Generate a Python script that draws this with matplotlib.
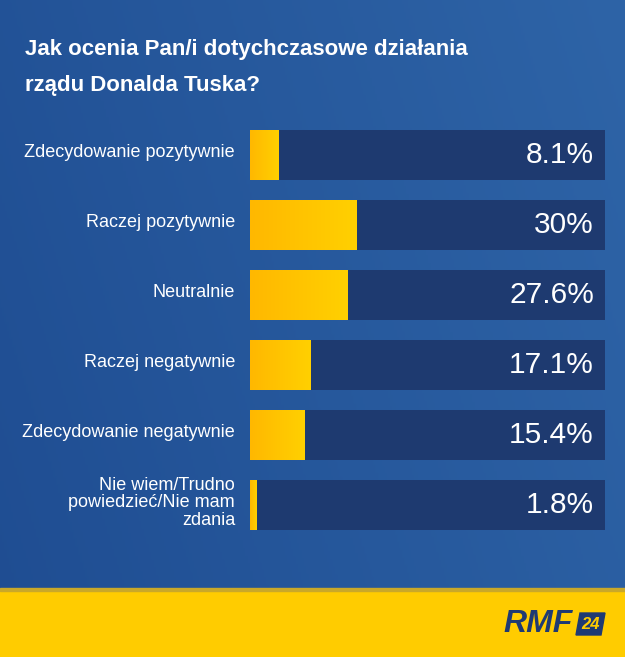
import numpy as np
import matplotlib
matplotlib.use("Agg")
import matplotlib.pyplot as plt
from matplotlib.colors import LinearSegmentedColormap
from matplotlib.patches import Rectangle, Polygon

title = "Jak ocenia Pan/i dotychczasowe działania\nrządu Donalda Tuska?"
categories = [
    "Zdecydowanie pozytywnie",
    "Raczej pozytywnie",
    "Neutralnie",
    "Raczej negatywnie",
    "Zdecydowanie negatywnie",
    "Nie wiem/Trudno\npowiedzieć/Nie mam\nzdania",
]
values = [8.1, 30, 27.6, 17.1, 15.4, 1.8]
value_labels = ["8.1%", "30%", "27.6%", "17.1%", "15.4%", "1.8%"]

W, H = 625, 657
fig = plt.figure(figsize=(W / 100, H / 100), dpi=100)

# background
bg = fig.add_axes([0, 0, 1, 1])
bg.set_xlim(0, W)
bg.set_ylim(H, 0)
bg.axis("off")
bg_cmap = LinearSegmentedColormap.from_list("bg", ["#1f4d92", "#2e64a7"])
gx = np.linspace(0, 1, 256)
gy = np.linspace(0, 1, 256)
G = 0.75 * gx[None, :] + 0.25 * (1 - gy[:, None])
bg.imshow(G, cmap=bg_cmap, extent=(0, W, H, 0), aspect="auto", zorder=0)
bg.add_patch(Rectangle((0, 590), W, H - 590, color="#ffcc00", zorder=1))
bg.add_patch(Rectangle((0, 588), W, 3, color="#c9a829", zorder=1))

bg.text(25, 67.5, title, color="white", fontsize=16, fontweight="bold",
        family="Liberation Sans", va="center",
        ha="left", linespacing=1.95, zorder=3)

# logo
bg.text(503, 624, "RMF", color="#1f3a73", fontsize=23, fontweight="bold",
        style="italic", family="Liberation Sans", va="center", ha="left", zorder=3)
bg.add_patch(Polygon([(576, 635), (580, 613), (605, 613), (601, 635)],
                     closed=True, color="#1f3a73", zorder=3))
bg.text(590.5, 624.5, "24", color="#ffcc00", fontsize=12, fontweight="bold",
        style="italic", family="Liberation Sans", va="center", ha="center", zorder=4)

# bars
ax = fig.add_axes([250 / W, 1 - 540 / H, 355 / W, 420 / H])
ax.set_xlim(0, 100)
ax.set_ylim(len(values) - 0.5, -0.5)
ax.axis("off")
ax.patch.set_alpha(0)
h = 50 / 70
ypos = np.arange(len(values))
ax.barh(ypos, [100] * len(values), height=h, color="#1e3a70", zorder=1)
bar_cmap = LinearSegmentedColormap.from_list("bar", ["#ffb800", "#ffd000"])
grad = np.linspace(0, 1, 64)[None, :]
for i, v in enumerate(values):
    ax.imshow(grad, cmap=bar_cmap, extent=(0, v, i + h / 2, i - h / 2),
              aspect="auto", zorder=2)
    ax.text(96.9, i, value_labels[i], color="white", fontsize=21.5,
            family="Liberation Sans", ha="right", va="center", zorder=3)
    ax.text(-4.2, i - 0.03, categories[i], color="white", fontsize=13,
            family="Liberation Sans", ha="right", va="center", zorder=3,
            multialignment="right", linespacing=1.06, clip_on=False)
ax.set_xlim(0, 100)
ax.set_ylim(len(values) - 0.5, -0.5)

fig.savefig("out.png", dpi=100)
